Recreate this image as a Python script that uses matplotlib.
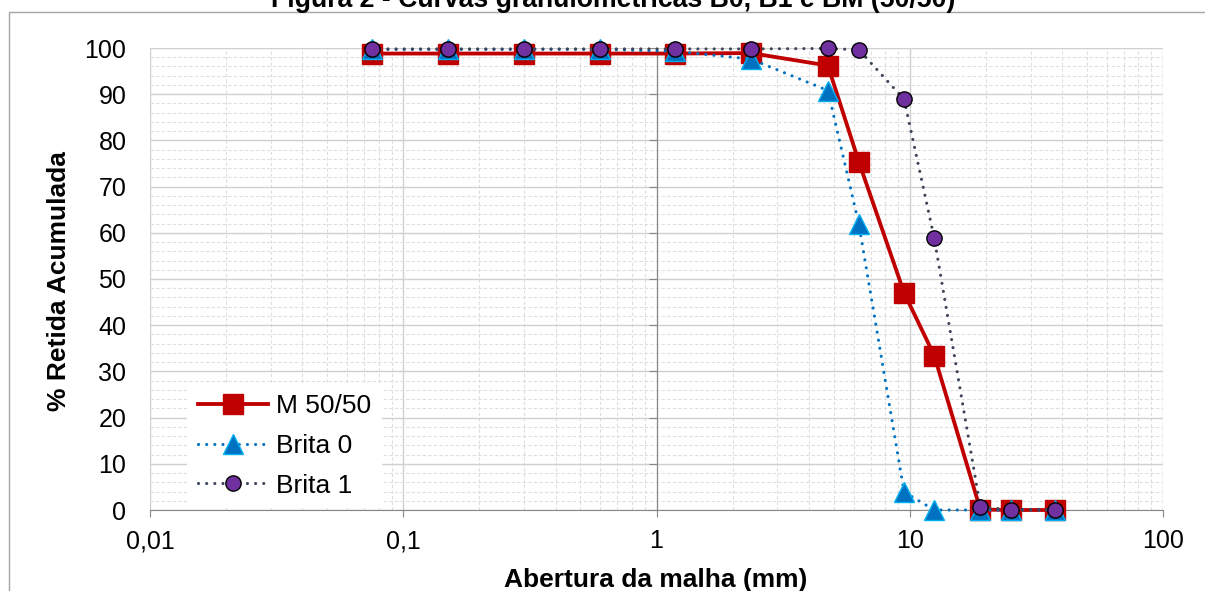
import matplotlib.pyplot as plt
from matplotlib.patches import Rectangle
from matplotlib.ticker import (FixedLocator, FuncFormatter, LogLocator,
                               MultipleLocator, NullFormatter)

plt.rcParams["font.family"] = ["Liberation Sans", "DejaVu Sans"]

# abertura das peneiras (mm) e % retida acumulada
peneiras = [0.075, 0.15, 0.3, 0.6, 1.18, 2.36, 4.75, 6.3, 9.5, 12.5, 19, 25, 37.5]
m_50_50 = [98.8, 98.8, 98.8, 98.8, 98.8, 98.9, 96.2, 75.3, 47.0, 33.4, 0.1, 0.0, 0.0]
brita_0 = [99.7, 99.7, 99.7, 99.7, 99.3, 97.6, 90.8, 61.8, 3.9, 0.0, 0.0, 0.0, 0.0]
brita_1 = [99.8, 99.8, 99.8, 99.8, 99.8, 99.8, 99.9, 99.6, 88.9, 58.8, 0.6, 0.1, 0.1]

W, H = 1205, 591
fig = plt.figure(figsize=(W / 100, H / 100), dpi=100)
ax = fig.add_axes([150 / W, 1 - 510 / H, (1163 - 150) / W, (510 - 48) / H])

dot = (0, (0.01, 2.6))
ax.plot(peneiras, m_50_50, color="#C00000", lw=2.75, marker="s", ms=14,
        mfc="#C00000", mec="#C00000", label="M 50/50", zorder=3, clip_on=False)
ax.plot(peneiras, brita_0, color="#0070C0", lw=2.25, ls=dot, dash_capstyle="round",
        marker="^", ms=14, mfc="#0070C0", mec="#00B0F0", mew=1,
        label="Brita 0", zorder=4, clip_on=False)
ax.plot(peneiras, brita_1, color="#3B4556", lw=2.25, ls=dot, dash_capstyle="round",
        marker="o", ms=11, mfc="#7030A0", mec="black", mew=1,
        label="Brita 1", zorder=5, clip_on=False)

ax.set_xscale("log")
ax.set_xlim(0.01, 100)
ax.set_ylim(0, 100)
ax.xaxis.set_major_locator(FixedLocator([0.01, 0.1, 1, 10, 100]))
ax.xaxis.set_major_formatter(FuncFormatter(lambda v, p: f"{v:g}".replace(".", ",")))
ax.xaxis.set_minor_locator(LogLocator(subs=range(2, 10)))
ax.xaxis.set_minor_formatter(NullFormatter())
ax.yaxis.set_major_locator(MultipleLocator(10))
ax.yaxis.set_minor_locator(MultipleLocator(2))

ax.grid(which="major", color="#d0d0d0", lw=1)
ax.grid(which="minor", color="#dedede", lw=0.8, ls=(0, (3, 2)))
ax.set_axisbelow(True)

for side in ("top", "right"):
    ax.spines[side].set_visible(False)
ax.spines["left"].set_position(("data", 1))
ax.spines["left"].set_color("#868686")
ax.spines["bottom"].set_color("#868686")

ax.tick_params(axis="x", which="major", direction="out", length=5, color="#868686",
               labelsize=18, pad=9)
ax.tick_params(axis="x", which="minor", length=0)
ax.tick_params(axis="y", which="major", direction="out", length=5.5, color="#868686",
               labelleft=False)
ax.tick_params(axis="y", which="minor", length=0)

# rótulos do eixo y ficam na borda esquerda, o eixo cruza em x = 1
sec = ax.secondary_yaxis(0)
sec.set_yticks(range(0, 101, 10))
sec.tick_params(length=0, labelsize=18, pad=17)
sec.spines["left"].set_visible(False)

leg = ax.legend(loc="lower left", bbox_to_anchor=(0.037, 0.004), fontsize=19,
                frameon=True, facecolor="white", edgecolor="none", framealpha=1,
                fancybox=False, handlelength=2.65, handletextpad=0.3,
                labelspacing=0.6, borderpad=0.4, borderaxespad=0)
leg.set_zorder(10)

fig.text(656 / W, 1 - 580 / H, "Abertura da malha (mm)", ha="center", va="center",
         fontsize=19, fontweight="bold")
fig.text(59 / W, 1 - 281 / H, "% Retida Acumulada", ha="center", va="center",
         rotation=90, fontsize=19, fontweight="bold")
fig.text(613 / W, 1 - 7 / H, "Figura 2 - Curvas granulométricas B0, B1 e BM (50/50)",
         ha="center", va="baseline", fontsize=19.2, fontweight="bold")

fig.patches.append(Rectangle((9 / W, -0.1), 1.2, 1.1 - 12 / H, transform=fig.transFigure,
                             fill=False, edgecolor="#a6a6a6", lw=1))

fig.savefig("out.png", dpi=100)
